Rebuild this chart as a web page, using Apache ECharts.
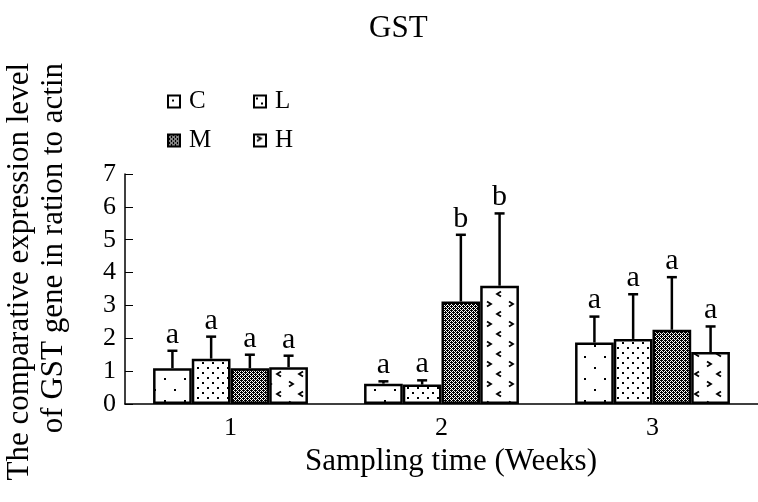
<!DOCTYPE html>
<html>
<head>
<meta charset="utf-8">
<script src="https://cdn.jsdelivr.net/npm/echarts@6/dist/echarts.min.js"></script>
<style>
html,body{margin:0;padding:0;background:#fff;}
#chart{width:758px;height:502px;}
</style>
</head>
<body>
<div id="chart"></div>
<script>
// ---- data ----
const categories = ['1', '2', '3'];
const seriesNames = ['C', 'L', 'M', 'H'];
const meanC = [1.09, 0.62, 1.87];
const meanL = [1.38, 0.59, 1.98];
const meanM = [1.09, 3.12, 2.26];
const meanH = [1.12, 3.60, 1.58];
const sdC = [0.53, 0.07, 0.79];
const sdL = [0.67, 0.13, 1.36];
const sdM = [0.41, 2.03, 1.60];
const sdH = [0.35, 2.20, 0.78];
const lettersC = ['a', 'a', 'a'];
const lettersL = ['a', 'a', 'a'];
const lettersM = ['a', 'b', 'a'];
const lettersH = ['a', 'b', 'a'];
const titleText = 'GST';
const xName = 'Sampling time (Weeks)';
const yName = 'The comparative expression level\nof GST gene in ration to actin';

const means = [meanC, meanL, meanM, meanH];
const sds = [sdC, sdL, sdM, sdH];
const letters = [lettersC, lettersL, lettersM, lettersH];

const FONT = '"Liberation Serif", "Times New Roman", serif';
const GAP = 0.266;

// ---- fill patterns ----
function mk(w, h, draw) {
  const c = document.createElement('canvas');
  c.width = w; c.height = h;
  const ctx = c.getContext('2d');
  ctx.fillStyle = '#fff'; ctx.fillRect(0, 0, w, h);
  ctx.fillStyle = '#000'; ctx.strokeStyle = '#000';
  draw(ctx);
  return c;
}
const patC = mk(20, 22, ctx => { ctx.fillRect(4, 4, 2, 2); ctx.fillRect(14, 15, 2, 2); });
const patL = mk(10, 10, ctx => { ctx.fillRect(2, 2, 2, 2); ctx.fillRect(7, 7, 2, 2); });
const patM = mk(4, 4, ctx => {
  ctx.fillRect(0, 0, 1, 1); ctx.fillRect(2, 0, 1, 1); ctx.fillRect(1, 1, 1, 1); ctx.fillRect(3, 1, 1, 1);
  ctx.fillRect(0, 2, 1, 1); ctx.fillRect(2, 2, 1, 1); ctx.fillRect(1, 3, 1, 1); ctx.fillRect(3, 3, 1, 1);
  ctx.fillRect(1, 0, 1, 1); ctx.fillRect(3, 2, 1, 1);
});
const patH = mk(22, 20, ctx => {
  ctx.lineWidth = 1.8;
  ctx.beginPath(); ctx.moveTo(3, 1.5); ctx.lineTo(7, 4); ctx.lineTo(3, 6.5); ctx.stroke();
  ctx.beginPath(); ctx.moveTo(17, 11.5); ctx.lineTo(13, 14); ctx.lineTo(17, 16.5); ctx.stroke();
});
const pats = [patC, patL, patM, patH];

const series = [];
seriesNames.forEach((name, i) => {
  series.push({
    name: name,
    type: 'bar',
    data: means[i],
    barGap: '0%',
    barCategoryGap: (GAP * 100) + '%',
    itemStyle: { color: { image: pats[i], repeat: 'repeat' }, borderColor: '#000', borderWidth: 2.5 },
    z: 2
  });
});
seriesNames.forEach((name, i) => {
  series.push({
    type: 'custom',
    name: name + ' error',
    data: categories.map((c, k) => [k, means[i][k], sds[i][k]]),
    encode: { x: 0, y: 1 },
    z: 3,
    renderItem: function (params, api) {
      const idx = api.value(0), m = api.value(1), sd = api.value(2);
      const base = api.coord([idx, m]);
      const top = api.coord([idx, m + sd]);
      const band = api.size([1, 0])[0];
      const barW = band * (1 - GAP) / 4;
      const x = base[0] + (i - 1.5) * barW;
      return {
        type: 'group',
        children: [
          { type: 'line', shape: { x1: x, y1: base[1], x2: x, y2: top[1] }, style: { stroke: '#000', lineWidth: 2.5 } },
          { type: 'line', shape: { x1: x - 5, y1: top[1], x2: x + 5, y2: top[1] }, style: { stroke: '#000', lineWidth: 2.5 } },
          { type: 'text', x: x, y: top[1] - 1, style: { text: letters[i][params.dataIndex], align: 'center', verticalAlign: 'bottom', fontFamily: FONT, fontSize: 30, fill: '#000' } }
        ]
      };
    }
  });
});

function legendAt(name, left, top) {
  return {
    data: [name], left: left, top: top, icon: 'rect', itemWidth: 12, itemHeight: 12,
    itemStyle: { borderColor: '#000', borderWidth: 2 },
    textStyle: { fontFamily: FONT, fontSize: 25, color: '#000', padding: [0, 0, 0, 4] },
    selectedMode: false
  };
}

const chart = echarts.init(document.getElementById('chart'), null, { renderer: 'canvas' });
chart.setOption({
  animation: false,
  backgroundColor: '#fff',
  title: {
    text: titleText, left: 364, top: 8,
    textStyle: { fontFamily: FONT, fontSize: 31, fontWeight: 'normal', color: '#000' }
  },
  legend: [legendAt('C', 162, 84), legendAt('L', 248, 84), legendAt('M', 162, 123), legendAt('H', 248, 123)],
  grid: { left: 125, right: -9, top: 174, bottom: 98, containLabel: false },
  xAxis: {
    type: 'category', data: categories,
    name: xName, nameLocation: 'middle', nameGap: 42,
    nameTextStyle: { fontFamily: FONT, fontSize: 31, color: '#000', padding: [0, 0, 0, 19] },
    axisLine: { lineStyle: { color: '#000', width: 1.5 } },
    axisTick: { inside: true, length: 9, lineStyle: { color: '#000', width: 1 } },
    axisLabel: { fontFamily: FONT, fontSize: 26, color: '#000', margin: 11 },
    splitLine: { show: false }
  },
  yAxis: {
    type: 'value', min: 0, max: 7, interval: 1,
    axisLine: { show: true, lineStyle: { color: '#000', width: 1.5 } },
    axisTick: { show: true, inside: true, length: 8, lineStyle: { color: '#000', width: 1 } },
    axisLabel: { fontFamily: FONT, fontSize: 26, color: '#000', margin: 9 },
    splitLine: { show: false }
  },
  graphic: [{
    type: 'text', x: 37, y: 63, rotation: Math.PI / 2,
    style: { text: yName, align: 'right', verticalAlign: 'middle', fontFamily: FONT, fontSize: 31, lineHeight: 34, fill: '#000' }
  }],
  series: series
});
</script>
</body>
</html>
